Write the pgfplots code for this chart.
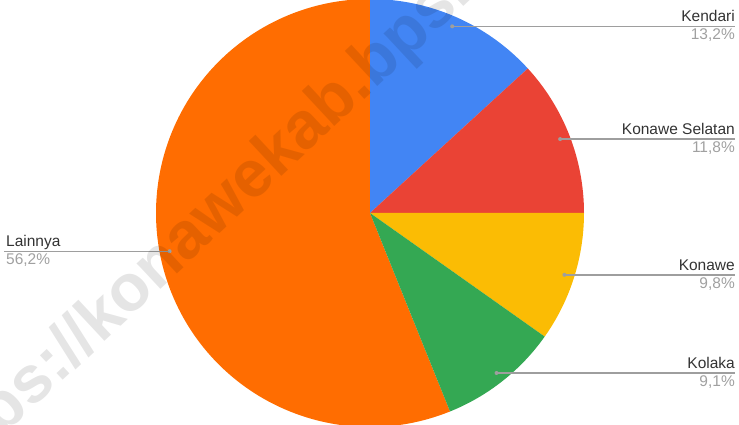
\documentclass[border=0pt]{standalone}
\usepackage{pgfplots}
\pgfplotsset{compat=1.18}
\usepackage{fontspec}
\setmainfont{Liberation Sans}

\definecolor{cBlue}{HTML}{4285F4}
\definecolor{cRed}{HTML}{EA4335}
\definecolor{cYellow}{HTML}{FBBC04}
\definecolor{cGreen}{HTML}{34A853}
\definecolor{cOrange}{HTML}{FF6D01}
\definecolor{cName}{HTML}{333333}
\definecolor{cPct}{HTML}{A0A0A0}
\definecolor{cLine}{HTML}{9E9E9E}

% pie centre and radius, in axis units (1 unit = 1pt)
\def\cx{370}\def\cy{212}\def\R{214pt}

% #1 start (percent), #2 value (percent), #3 colour
\newcommand{\slice}[3]{%
  \fill[#3] (axis cs:\cx,\cy) -- ++({90-3.6*(#1)}:\R)
    arc[start angle={90-3.6*(#1)}, delta angle={-3.6*(#2)}, radius=\R] -- cycle;}

% #1 start, #2 value, #3 name, #4 percent label  (labels on the right)
\newcommand{\rlabel}[4]{%
  \path (axis cs:\cx,\cy) ++({90-3.6*((#1)+(#2)/2)}:204pt) coordinate (d);
  \draw[cLine, line width=1.4pt] (d) -- (d -| {axis cs:735,0}) coordinate (e);
  \fill[cLine] (d) circle (2pt);
  \node[anchor=base east, inner sep=0pt, text=cName, yshift=4.5pt] at (e) {#3};
  \node[anchor=base east, inner sep=0pt, text=cPct, yshift=-13.5pt] at (e) {#4};}

\begin{document}
\begin{tikzpicture}
\useasboundingbox (0,0) rectangle (739pt,425pt);
\clip (0,0) rectangle (739pt,425pt);
\begin{axis}[
  scale only axis, width=739pt, height=425pt,
  xmin=0, xmax=739, ymin=0, ymax=425,
  hide axis, clip=false,
  font=\fontsize{15.5}{17}\selectfont,
]
% Lainnya first, so that the others lie on top of it
\slice{43.9}{56.2}{cOrange}
\slice{0}{13.2}{cBlue}
\slice{13.2}{11.8}{cRed}
\slice{25.0}{9.8}{cYellow}
\slice{34.8}{9.1}{cGreen}

\rlabel{0}{13.2}{Kendari}{13,2\%}
\rlabel{13.2}{11.8}{Konawe Selatan}{11,8\%}
\rlabel{25.0}{9.8}{Konawe}{9,8\%}
\rlabel{34.8}{9.1}{Kolaka}{9,1\%}

% Lainnya, label on the left
\path (axis cs:\cx,\cy) ++({90-3.6*(43.9+56.2/2)}:204pt) coordinate (d);
\draw[cLine, line width=1.4pt] (d) -- (d -| {axis cs:4,0}) coordinate (e);
\fill[cLine] (d) circle (2pt);
\node[anchor=base west, inner sep=0pt, text=cName, yshift=4.5pt, xshift=2pt] at (e) {Lainnya};
\node[anchor=base west, inner sep=0pt, text=cPct, yshift=-13.5pt, xshift=2pt] at (e) {56,2\%};

% watermark
\node[rotate=43, anchor=base west, inner sep=0pt, text=black, opacity=0.1,
  font=\bfseries\fontsize{66}{66}\selectfont] at (axis cs:-60,-70) {https://konawekab.bps.go.id};
\end{axis}
\end{tikzpicture}
\end{document}
